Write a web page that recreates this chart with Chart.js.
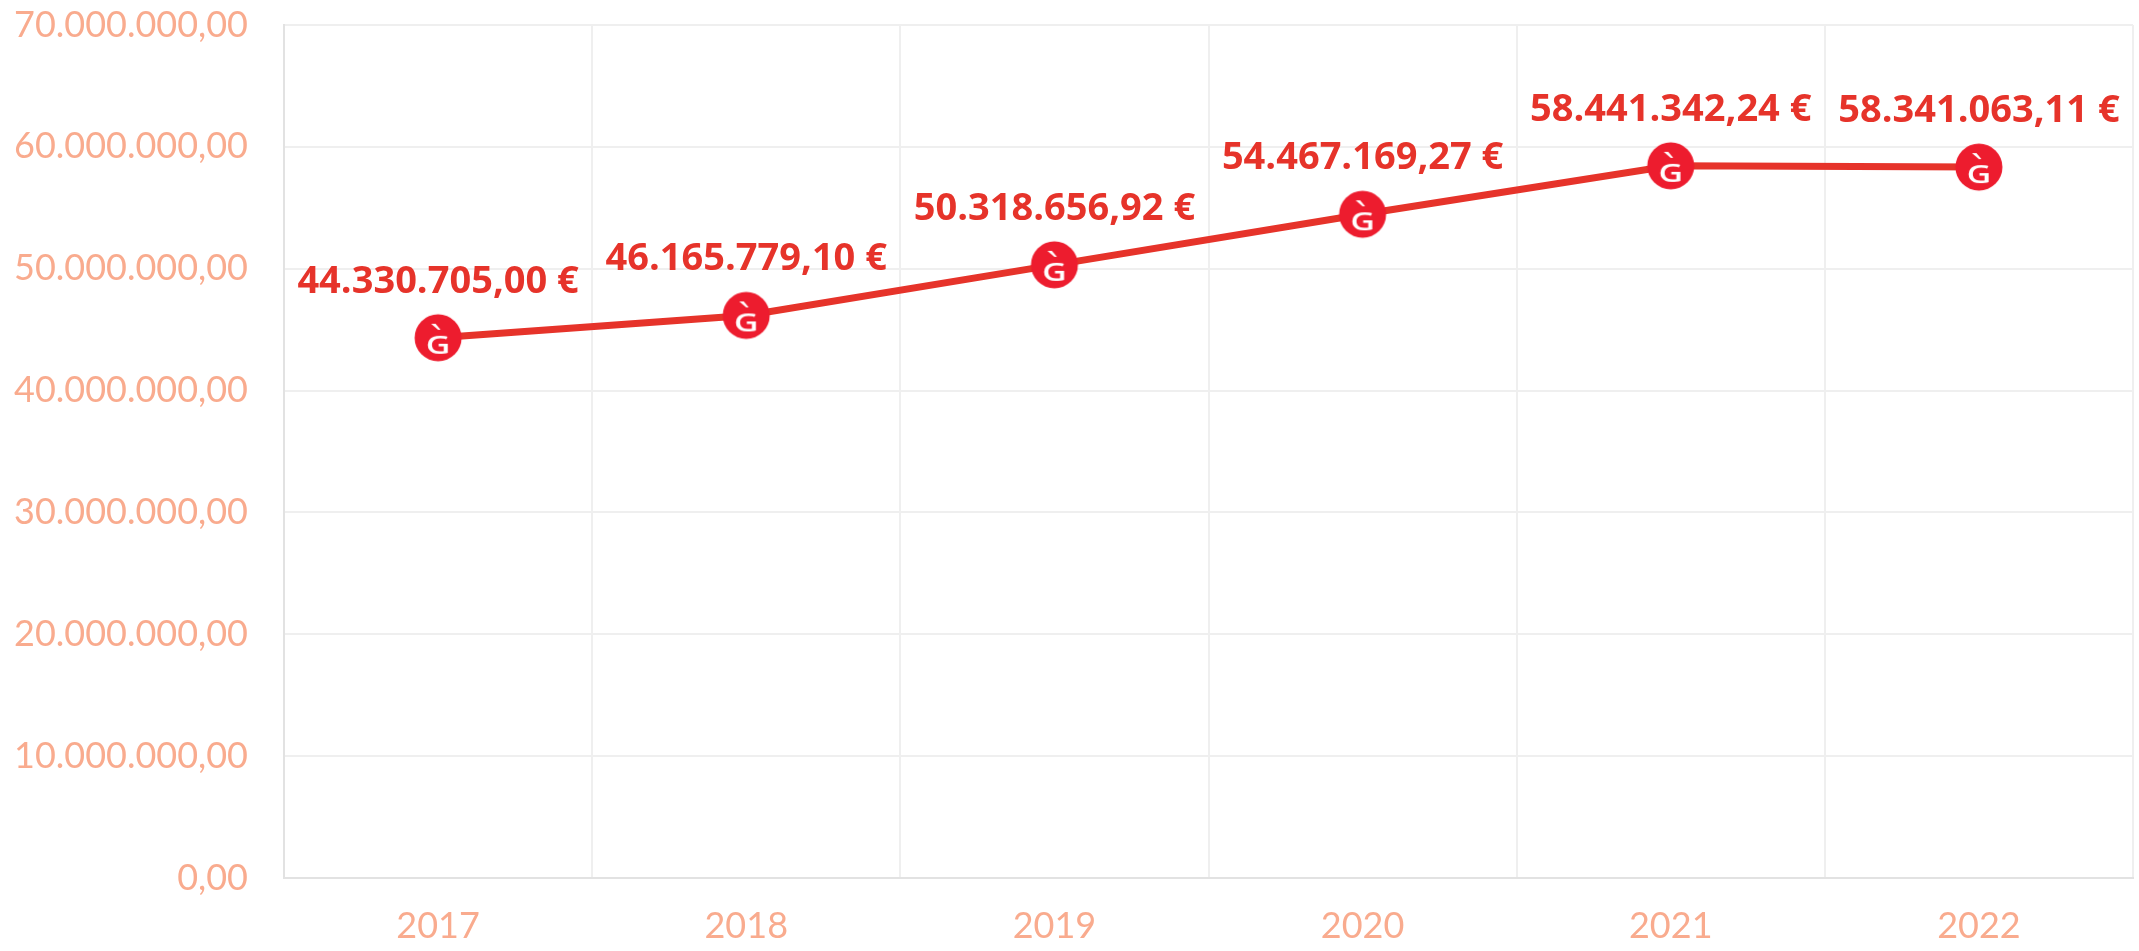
<!DOCTYPE html>
<html>
<head>
<meta charset="utf-8">
<style>html,body{margin:0;padding:0;background:#fff}#w{width:2139px;height:951px;position:relative}</style>
<script src="https://cdn.jsdelivr.net/npm/chart.js@4"></script>
</head>
<body>
<div id="w"><canvas id="c" width="2139" height="951"></canvas></div>
<script>
const categories = ["2017","2018","2019","2020","2021","2022"];
const revenue = [44330705.00,46165779.10,50318656.92,54467169.27,58441342.24,58341063.11];
const valueLabels = ["44.330.705,00 €","46.165.779,10 €","50.318.656,92 €","54.467.169,27 €","58.441.342,24 €","58.341.063,11 €"];
const yTickLabels = ["0,00","10.000.000,00","20.000.000,00","30.000.000,00","40.000.000,00","50.000.000,00","60.000.000,00","70.000.000,00"];

function makeMarker(){
  const s=50, m=document.createElement('canvas'); m.width=s; m.height=s;
  const g=m.getContext('2d'), c=s/2;
  g.fillStyle='#ed1c2e'; g.beginPath(); g.arc(c,c,23.5,0,Math.PI*2); g.fill();
  g.fillStyle='#fff'; g.textAlign='center'; g.textBaseline='alphabetic';
  g.save(); g.translate(c,c+16); g.scale(1.35,1); g.font='600 25px "Open Sans"'; g.fillText('G',0,0); g.restore();
  g.beginPath(); g.moveTo(c-7,c-14); g.lineTo(c-2.5,c-14); g.lineTo(c+2.5,c-8); g.lineTo(c,c-8); g.closePath(); g.fill();
  return m;
}
const valueLabelPlugin={id:'valueLabels',afterDatasetsDraw(chart){
  const ctx=chart.ctx, pts=chart.getDatasetMeta(0).data;
  ctx.save(); ctx.font='bold 38px "Open Sans"'; ctx.fillStyle='#e6332a';
  ctx.textAlign='center'; ctx.textBaseline='middle';
  pts.forEach((p,i)=>ctx.fillText(valueLabels[i],p.x,p.y-56));
  ctx.restore();
}};
const tickFont={family:'Lato',size:36,weight:'400'};
const tickColor='#f9ab8e';
function noPad(s){s.paddingTop=0;s.paddingBottom=0;s.paddingLeft=0;s.paddingRight=0;}
new Chart(document.getElementById('c'),{
  type:'line',
  data:{labels:categories,datasets:[{data:revenue,borderColor:'#e6332a',borderWidth:7,tension:0,fill:false,
    pointStyle:makeMarker(),pointRadius:1,pointHoverRadius:1,pointBackgroundColor:'#ed1c2e',pointBorderWidth:0}]},
  plugins:[valueLabelPlugin],
  options:{responsive:false,animation:false,devicePixelRatio:1,
    layout:{padding:{top:25,right:6,left:0,bottom:0}},
    plugins:{legend:{display:false},tooltip:{enabled:false}},
    scales:{
      x:{offset:true,grid:{offset:true,color:'#efefef',lineWidth:2,drawTicks:false},border:{color:'#e2e2e2',width:2},
        ticks:{color:tickColor,font:tickFont,padding:27,maxRotation:0},
        afterFit(s){s.height=73;noPad(s);}},
      y:{min:0,max:70000000,grid:{color:'#efefef',lineWidth:2,drawTicks:false},border:{color:'#e2e2e2',width:2},
        ticks:{stepSize:10000000,color:tickColor,font:tickFont,padding:36,callback:(v)=>yTickLabels[v/10000000]},
        afterFit(s){s.width=284;noPad(s);}}
    }
  }
});
</script>
</body>
</html>
